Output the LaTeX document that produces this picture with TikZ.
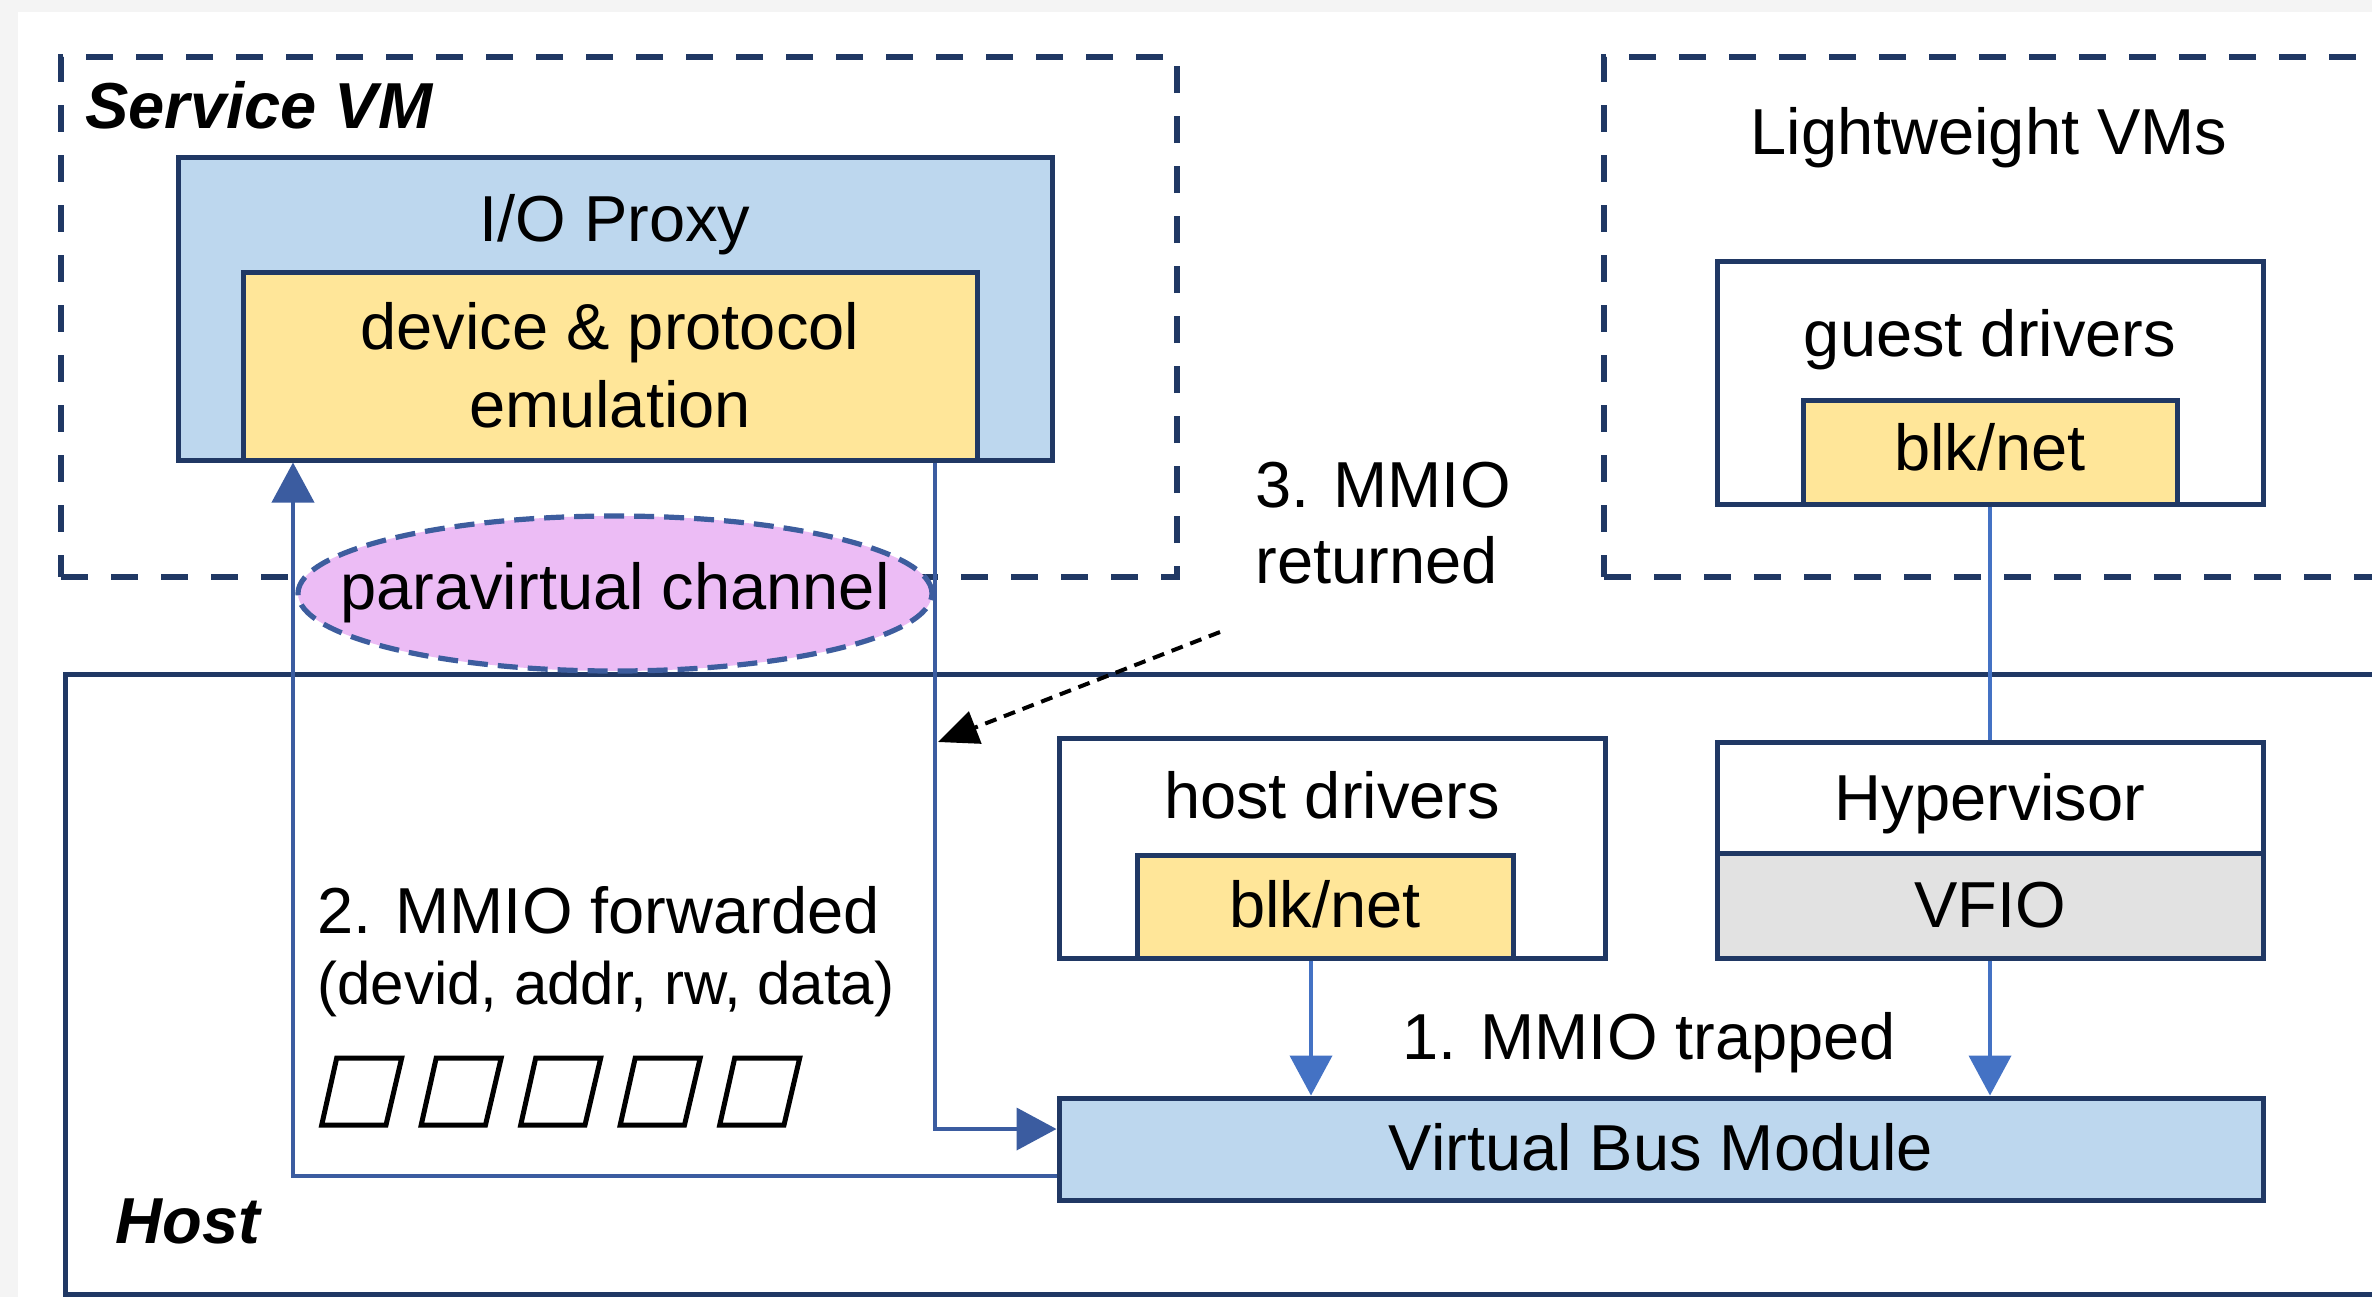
\documentclass[tikz,border=0pt]{standalone}
\usepackage{fontspec}
\setmainfont{Liberation Sans}
\usetikzlibrary{fit,shapes.geometric,arrows.meta}
\definecolor{navy}{HTML}{203864}
\definecolor{boxblue}{HTML}{BDD7EE}
\definecolor{emuyellow}{HTML}{FFE699}
\definecolor{vfiogray}{HTML}{E2E2E2}
\definecolor{chanpink}{HTML}{ECBCF5}
\definecolor{chanedge}{HTML}{3D5D9E}
\definecolor{linkblue}{HTML}{4472C4}
\definecolor{loopblue}{HTML}{3B5CA0}
\definecolor{pagegray}{HTML}{F4F4F4}
\begin{document}
\begin{tikzpicture}[x=0.5pt,y=-0.5pt,
  region/.style={draw=navy,line width=2.8pt,dash pattern=on 13.5pt off 11.5pt,inner sep=0},
  frame/.style={draw=navy,line width=2.5pt,inner sep=0},
  blk/.style={frame,fill=emuyellow},
  lbl/.style={font=\fontsize{32.5}{39}\selectfont,inner sep=0,anchor=base},
  lblw/.style={lbl,anchor=base west},
  title/.style={lblw,font=\fontsize{32.5}{39}\selectfont\bfseries\itshape},
  link/.style={draw=linkblue,line width=2pt},
  loop/.style={draw=loopblue,line width=2pt},
  tipblue/.style={-{Triangle[length=20pt,width=21pt]}},
]
% page
\useasboundingbox (0,0) rectangle (2372,1297);
\fill[pagegray] (0,0) rectangle (2372,1297);
\fill[white] (18,12) rectangle (2372,1297);

% dashed VM regions and the host
\node[region,fit={(61,57) (1177,577)}] (svm) {};
\node[region,fit={(1604,57) (2420,577)}] (lvm) {};
\node[frame,fit={(65,674) (2420,1294)}] (host) {};

% service VM contents
\node[frame,fill=boxblue,fit={(178,157) (1052,460)}] (iop) {};
\node[blk,fit={(243,272) (977,460)}] (emu) {};
\node[ellipse,draw=chanedge,fill=chanpink,line width=2.6pt,dash pattern=on 10pt off 5pt,
      minimum width=317pt,minimum height=77.5pt,inner sep=0] (chan) at (615,593.5) {};

% lightweight VM contents
\node[frame,fill=white,fit={(1717,261) (2263,504)}] (gdrv) {};
\node[blk,fit={(1803,400) (2177,504)}] (gblk) {};

% host contents
\node[frame,fill=white,fit={(1059,738) (1605,958)}] (hdrv) {};
\node[blk,fit={(1137,855) (1513,958)}] (hblk) {};
\node[frame,fill=white,fit={(1717,742) (2263,853)}] (hyp) {};
\node[frame,fill=vfiogray,fit={(1717,853) (2263,958)}] (vfio) {};
\node[frame,fill=boxblue,fit={(1059,1098) (2263,1200)}] (vbm) {};

% request queue
\foreach \i in {0,...,4}{
  \draw[black,line width=2.5pt,line join=miter]
    ({321.7+99.5*\i},1125) -- ({386+99.5*\i},1125) -- ({401.7+99.5*\i},1058)
    -- ({336.7+99.5*\i},1058) -- cycle;
}

% connectors
\draw[link] (gblk.south) -- (gblk.south |- hyp.north);
\coordinate (trap) at (1311,958);
\draw[link,tipblue] (trap |- hblk.south) -- (trap |- vbm.north);
\draw[link,tipblue] (vfio.south) -- (vfio.south |- vbm.north);
\coordinate (fwd) at (293,1176);
\coordinate (ret) at (935,1129);
\draw[loop,tipblue] (fwd -| vbm.west) -- (fwd) -- (fwd |- iop.south);
\draw[loop,tipblue] (ret |- iop.south) -- (ret) -- (ret -| vbm.west);
\coordinate (retnote) at (1220,632);
\coordinate (rettip) at (938,742);
\draw[black,line width=2pt,dash pattern=on 6pt off 4pt,-{Triangle[length=20pt,width=17pt]}]
  (retnote) -- (rettip);

% labels
\node[title] (tsvm) at (85,128) {Service VM};
\node[title] (thost) at (115,1243) {Host};
\node[lbl] (tiop) at (615,241) {I/O Proxy};
\node[lbl] (temu1) at (610,349) {device \& protocol};
\node[lbl] (temu2) at (610,427) {emulation};
\node[lbl] (tchan) at (615,609) {paravirtual channel};
\node[lbl] (tlvm) at (1989,154) {Lightweight VMs};
\node[lbl] (tgdrv) at (1990,356) {guest drivers};
\node[lbl] (tgblk) at (1990,470) {blk/net};
\node[lbl] (thdrv) at (1332,818) {host drivers};
\node[lbl] (thblk) at (1325,927) {blk/net};
\node[lbl] (thyp) at (1990,820) {Hypervisor};
\node[lbl] (tvfio) at (1990,927) {VFIO};
\node[lbl] (tvbm) at (1661,1170) {Virtual Bus Module};
\node[lblw] (ttrap) at (1402,1059) {1. MMIO trapped};
\node[lblw] (tret1) at (1255,507) {3. MMIO};
\node[lblw] (tret2) at (1255,583) {returned};
\node[lblw] (tfwd1) at (317,933) {2. MMIO forwarded};
\node[lblw,font=\fontsize{30}{36}\selectfont] (tfwd2) at (317,1004) {(devid, addr, rw, data)};
\end{tikzpicture}
\end{document}
